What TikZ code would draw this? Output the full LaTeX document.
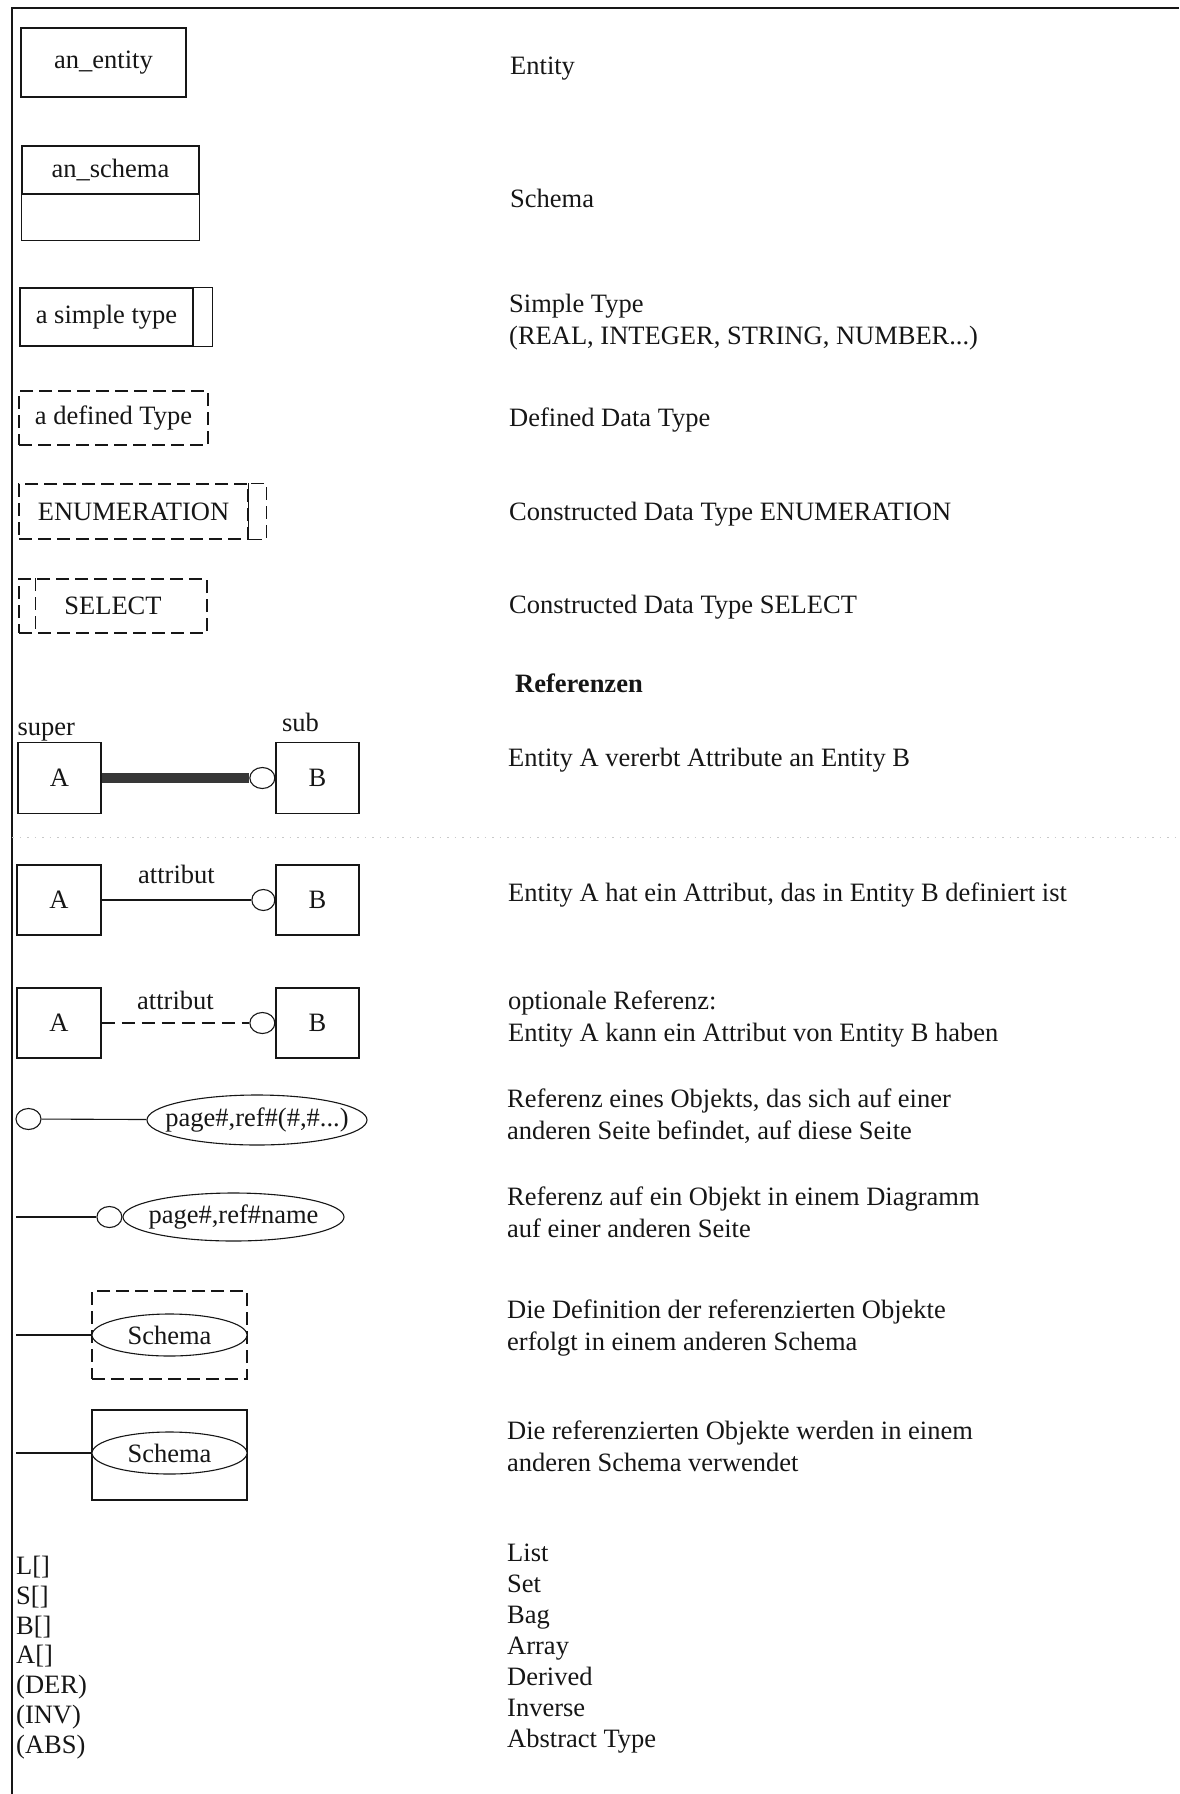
\documentclass[tikz,border=0pt]{standalone}
\usepackage{fontspec}
\setmainfont{Liberation Serif}
\usetikzlibrary{positioning, shapes.geometric}
\definecolor{ink}{RGB}{22,22,22}
\definecolor{smudge}{RGB}{55,55,55}
\definecolor{haze}{RGB}{200,200,200}
\newcommand{\slim}[1]{\makebox[0pt]{#1}}

\begin{document}
\begin{tikzpicture}[
  x=1pt, y=1pt,
  box/.style={draw=ink, line width=1.2pt, inner sep=0pt, text=ink,
              font=\fontsize{26.5}{32}\selectfont},
  dsh/.style={draw=ink, line width=1.2pt, dash pattern=on 13pt off 6pt},
  dbox/.style={box, dsh},
  ring/.style={ellipse, draw=ink, line width=1.1pt, fill=white, minimum width=25pt,
               minimum height=21pt, inner sep=0pt},
  refnode/.style={ellipse, draw=ink, line width=1.1pt, fill=white, inner sep=0pt,
                  text=ink, font=\fontsize{26.5}{32}\selectfont},
  con/.style={draw=ink, line width=1.1pt},
  heavy/.style={draw=smudge, line width=10.5pt},
  txt/.style={font=\fontsize{26.5}{32}\selectfont, text=ink, inner sep=0pt,
              align=left},
  hd/.style={txt, font=\fontsize{26.5}{32}\selectfont\bfseries}]

  \useasboundingbox (0,0) rectangle (1179,-1794);
  \draw[ink, line width=1.8pt] (12,-1794) -- (12,-8) -- (1179,-8);
  \draw[haze, line width=0.8pt, dash pattern=on 1.5pt off 6pt] (12,-837) -- (1179,-837);

  \node[box, minimum width=165pt, minimum height=69pt] (ent) at (103.5,-62.5) {an\_entity};

  \node[box, minimum width=177pt, minimum height=48pt] (sch) at (110.5,-170) {an\_schema};
  \draw[ink, line width=1.2pt] (sch.south west) rectangle ([yshift=-46pt]sch.south east);

  \node[box, minimum width=173pt, minimum height=58pt] (smp) at (106.5,-317) {a simple type};
  \draw[ink, line width=1.2pt] (smp.north east) rectangle ([xshift=19pt]smp.south east);

  \node[dbox, minimum width=189pt, minimum height=54pt] (dft) at (113.5,-418) {a defined Type};

  \node[dbox, minimum width=229pt, minimum height=55pt] (enm) at (133.5,-511.5) {ENUMERATION};
  \draw[dsh] (enm.north east) rectangle ([xshift=18pt]enm.south east);

  \node[dbox, minimum width=188pt, minimum height=54pt] (sel) at (113,-606) {SELECT};
  \draw[dsh] ([xshift=17pt]sel.north west) -- ([xshift=17pt]sel.south west);

  \node[box, minimum width=83pt, minimum height=71pt] (a1) at (59.5,-778) {A};
  \node[box, minimum width=83pt, minimum height=71pt] (b1) at (317.5,-778) {B};
  \node[ring, left=0pt of b1] (c1) {};
  \draw[heavy] (a1.east) -- (c1.west);
  \node[txt, anchor=south west] (sup) at ([yshift=1pt]a1.north west) {super};
  \node[txt, anchor=south] (sub) at ([xshift=-17pt, yshift=10pt]b1.north) {sub};

  \node[box, minimum width=84pt, minimum height=70pt] (a2) at (59,-900) {A};
  \node[box, minimum width=83pt, minimum height=70pt] (b2) at (317.5,-900) {B};
  \node[ring, minimum width=23pt, left=0pt of b2] (c2) {};
  \draw[con] (a2) -- (c2) node[txt, midway, above=16pt] (l2) {attribut};

  \node[box, minimum width=84pt, minimum height=70pt] (a3) at (59,-1023) {A};
  \node[box, minimum width=83pt, minimum height=70pt] (b3) at (317.5,-1023) {B};
  \node[ring, left=0pt of b3] (c3) {};
  \draw[con, dash pattern=on 13pt off 7pt] (a3) -- (c3)
    node[txt, midway, above=13pt] (l3) {attribut};

  \node[ring] (c4) at (28.5,-1119) {};
  \node[refnode, minimum width=220pt, minimum height=50pt] (e4) at (257,-1120) {\slim{page\#,ref\#(\#,\#...)}};
  \draw[con] (c4) -- (e4);

  \coordinate (p5) at (16,-1217);
  \node[refnode, minimum width=221pt, minimum height=48pt] (e5) at (233.5,-1217) {\slim{page\#,ref\#name}};
  \node[ring, left=0pt of e5] (c5) {};
  \draw[con] (p5) -- (c5);

  \node[dbox, minimum width=155pt, minimum height=88pt] (s6) at (169.5,-1335) {};
  \node[refnode, minimum width=155pt, minimum height=42pt] (e6) at (s6.center) {\slim{Schema}};
  \coordinate (p6) at (16,-1335);
  \draw[con] (p6) -- (e6);

  \node[box, minimum width=155pt, minimum height=90pt] (s7) at (169.5,-1455) {};
  \node[refnode, minimum width=155pt, minimum height=42pt] (e7) at (169.5,-1453) {\slim{Schema}};
  \coordinate (p7) at (16,-1453);
  \draw[con] (p7) -- (e7);

  \node[txt, anchor=west, font=\fontsize{26.5}{29.8}\selectfont] (kl) at (16,-1657.5)
    {L[]\\S[]\\B[]\\A[]\\(DER)\\(INV)\\(ABS)};

  \node[txt, anchor=west] (d1) at (510,-69) {Entity};
  \node[txt, anchor=west] (d2) at (510,-198) {Schema};
  \node[txt, anchor=west] (d3) at (509,-322) {Simple Type\\(REAL, INTEGER, STRING, NUMBER...)};
  \node[txt, anchor=west] (d4) at (509,-420) {Defined Data Type};
  \node[txt, anchor=west] (d5) at (509,-514) {Constructed Data Type ENUMERATION};
  \node[txt, anchor=west] (d6) at (509,-607) {Constructed Data Type SELECT};
  \node[hd, anchor=west] (d7) at (515,-683) {Referenzen};
  \node[txt, anchor=west] (d8) at (508,-760) {Entity A vererbt Attribute an Entity B};
  \node[txt, anchor=west] (d9) at (508,-895) {Entity A hat ein Attribut, das in Entity B definiert ist};
  \node[txt, anchor=west] (d10) at (508,-1019) {optionale Referenz:\\Entity A kann ein Attribut von Entity B haben};
  \node[txt, anchor=west] (d11) at (507,-1116) {Referenz eines Objekts, das sich auf einer\\anderen Seite befindet, auf diese Seite};
  \node[txt, anchor=west] (d12) at (507,-1212) {Referenz auf ein Objekt in einem Diagramm\\auf einer anderen Seite};
  \node[txt, anchor=west] (d13) at (507,-1328) {Die Definition der referenzierten Objekte\\erfolgt in einem anderen Schema};
  \node[txt, anchor=west] (d14) at (507,-1446) {Die referenzierten Objekte werden in einem\\anderen Schema verwendet};
  \node[txt, anchor=west, font=\fontsize{26.5}{31}\selectfont] (kr) at (507,-1649)
    {List\\Set\\Bag\\Array\\Derived\\Inverse\\Abstract Type};
\end{tikzpicture}
\end{document}
